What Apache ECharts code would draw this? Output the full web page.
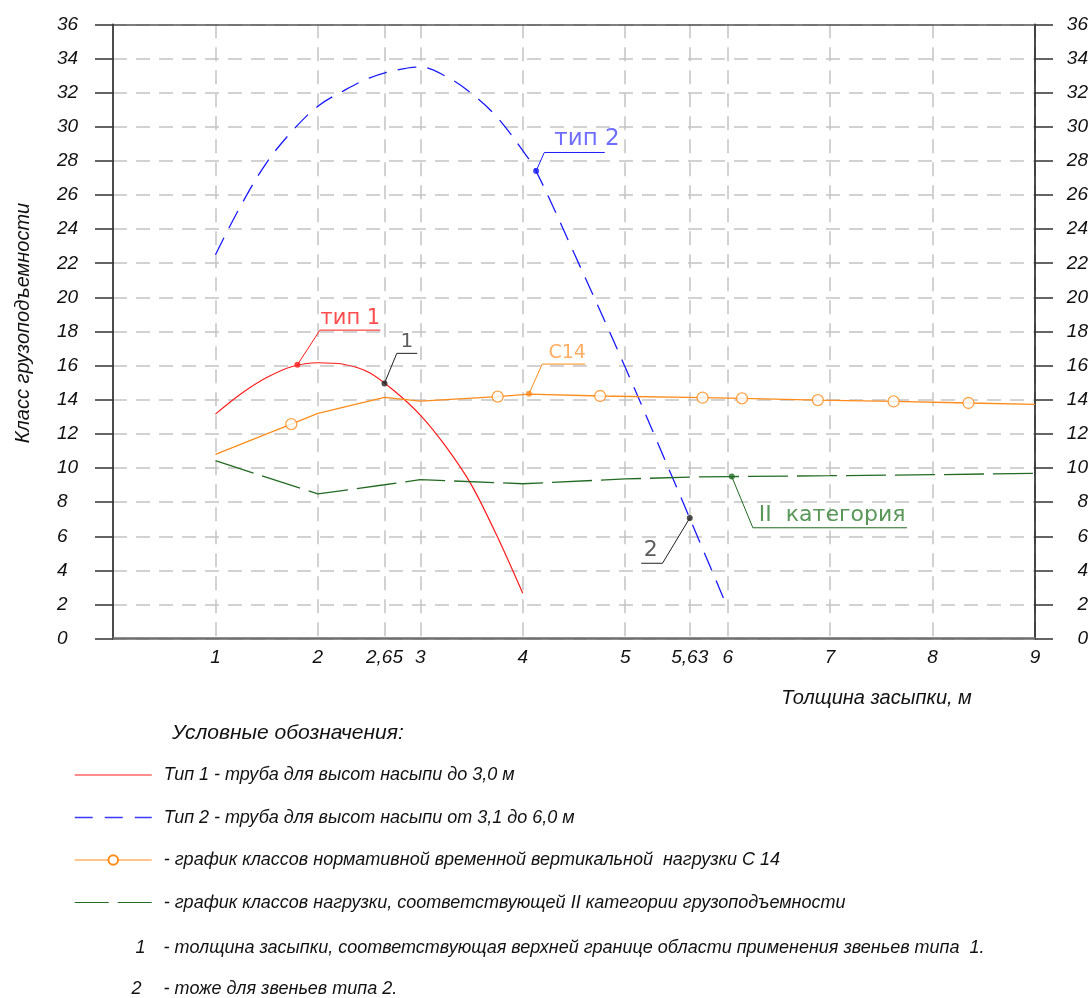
<!DOCTYPE html>
<html>
<head>
<meta charset="utf-8">
<script src="https://cdn.jsdelivr.net/npm/echarts/dist/echarts.min.js"></script>
<style>
html,body{margin:0;padding:0;background:#fff;}
#chart{width:1091px;height:998px;}
</style>
</head>
<body>
<div id="chart"></div>
<script>
// ---------- data (x = толщина засыпки, м ; y = класс грузоподъемности) ----------
const xTickValues = [1, 2, 2.65, 3, 4, 5, 5.63, 6, 7, 8, 9];
const yMin = 0, yMax = 36, yStep = 2;

const seriesNames = [
  'Тип 1 - труба для высот насыпи до 3,0 м',
  'Тип 2 - труба для высот насыпи от 3,1 до 6,0 м',
  '- график классов нормативной временной вертикальной  нагрузки С 14',
  '- график классов нагрузки, соответствующей II категории грузоподъемности'
];

const type1 = [[1.0,13.16],[1.25,14.35],[1.5,15.3],[1.75,15.95],[2.0,16.17],[2.25,16.08],[2.5,15.6],[2.75,14.5],[3.0,13.1],[3.25,11.25],[3.5,9.0],[3.75,6.0],[4.0,2.66]];
const type2 = [[1.0,22.5],[1.25,25.4],[1.5,27.9],[1.75,29.75],[2.0,31.2],[2.25,32.1],[2.5,32.85],[2.75,33.3],[3.0,33.5],[3.25,32.95],[3.5,31.95],[3.75,30.55],[4.0,28.6],[4.13,27.4],[4.5,22.6],[5.0,15.9],[5.5,8.9],[5.63,7.05],[6.0,1.8]];
const c14Line = [[1.0,10.8],[1.74,12.57],[2.0,13.2],[2.65,14.14],[3.0,13.92],[3.755,14.18],[4.06,14.33],[4.755,14.22],[5.755,14.12],[6.14,14.08],[6.88,13.98],[7.62,13.9],[8.35,13.81],[9.0,13.73]];
const c14Markers = [[1.74,12.57],[3.755,14.18],[4.755,14.22],[5.755,14.12],[6.14,14.08],[6.88,13.98],[7.62,13.9],[8.35,13.81]];
const cat2 = [[1.0,10.43],[2.0,8.48],[2.65,9.02],[3.0,9.32],[4.0,9.08],[5.0,9.36],[5.63,9.47],[6.04,9.5],[7.0,9.55],[8.0,9.61],[9.0,9.69]];

// annotation callouts (data coordinates)
const calloutTexts  = ['тип 1', '1', 'тип 2', 'С14', '2', 'II  категория'];
const calloutDots   = [[1.80,16.05],[2.65,14.96],[4.13,27.40],[4.06,14.35],[5.63,7.07],[6.04,9.50]];
const calloutPaths  = [
  [[1.80,16.05],[2.02,18.08],[2.61,18.08]],
  [[2.65,14.96],[2.77,16.72],[2.97,16.72]],
  [[4.13,27.40],[4.21,28.49],[4.80,28.49]],
  [[4.06,14.35],[4.19,16.09],[4.61,16.09]],
  [[5.63,7.07],[5.364,4.42],[5.156,4.42]],
  [[6.04,9.50],[6.246,6.50],[7.75,6.50]]
];
const calloutAnchors = [[2.317,18.08],[2.868,16.72],[4.627,28.49],[4.434,16.09],[5.25,4.42],[7.02,6.50]];

const legendTitle = 'Условные обозначения:';
const noteMarks = ['1', '2'];
const noteTexts = [
  '- толщина засыпки, соответствующая верхней границе области применения звеньев типа  1.',
  '- тоже для звеньев типа 2.'
];

// ---------- styles ----------
const cRed = '#ff1a1a', cBlue = '#1a1aff', cOrange = '#ff8c1a', cGreen = '#236b23';
const calloutColors = ['#ff2020', '#333', '#4a4aff', '#ff9a3c', '#333', '#2e7d2e'];
const calloutSizes = [21, 20, 23, 19, 22, 22];
const dotColors = [cRed, '#222', cBlue, cOrange, '#222', cGreen];
const labelFont = 'Liberation Sans, Arial, sans-serif';
const cadFont = "'DejaVu Sans', sans-serif";
const gridDash = [14, 9];

const series = [
  { name: seriesNames[0], type: 'line', data: type1, smooth: 0.3, symbol: 'none',
    lineStyle: { color: cRed, width: 1.2 }, itemStyle: { color: cRed }, z: 3 },
  { name: seriesNames[1], type: 'line', data: type2, smooth: 0.35, symbol: 'none',
    lineStyle: { color: cBlue, width: 1.3, type: [19, 11] }, itemStyle: { color: cBlue }, z: 3 },
  { name: seriesNames[2], type: 'line', data: c14Line, symbol: 'emptyCircle', showSymbol: false,
    lineStyle: { color: cOrange, width: 1.3 }, itemStyle: { color: cOrange }, z: 3 },
  { name: seriesNames[3], type: 'line', data: cat2, symbol: 'none',
    lineStyle: { color: cGreen, width: 1.3, type: [40, 9] }, itemStyle: { color: cGreen }, z: 3 },
  { name: 'c14 markers', type: 'scatter', data: c14Markers, symbol: 'circle', symbolSize: 11,
    itemStyle: { color: '#fff', borderColor: cOrange, borderWidth: 1.3 }, z: 4, silent: true }
];

calloutPaths.forEach((p, i) => {
  series.push({ type: 'line', data: p, symbol: 'none', silent: true, z: 5,
    lineStyle: { color: dotColors[i], width: 1 } });
  series.push({ type: 'scatter', data: [calloutDots[i]], symbol: 'circle', symbolSize: 6, silent: true, z: 6,
    itemStyle: { color: dotColors[i] } });
  series.push({ type: 'scatter', data: [calloutAnchors[i]], symbolSize: 1, silent: true, z: 6,
    itemStyle: { color: 'rgba(0,0,0,0)' },
    label: { show: true, position: 'top', distance: 1, formatter: calloutTexts[i],
      color: calloutColors[i], fontFamily: cadFont, fontSize: calloutSizes[i] } });
});

const yAxisCommon = {
  type: 'value', min: yMin, max: yMax, interval: yStep,
  axisLine: { show: true, onZero: false, lineStyle: { color: '#111', width: 1.5 } },
  axisTick: { show: true, inside: false, length: 18, lineStyle: { color: '#333', width: 1.5 } }
};

const tickFont = { fontFamily: labelFont, fontStyle: 'italic', fontSize: 19, color: '#111' };

const option = {
  backgroundColor: '#fff',
  animation: false,
  grid: { left: 113, right: 56, top: 24.3, bottom: 359.3, containLabel: false },
  xAxis: [
    { type: 'value', min: 0, max: 9, position: 'bottom',
      name: 'Толщина засыпки, м', nameLocation: 'middle', nameGap: 50,
      nameTextStyle: { fontFamily: labelFont, fontStyle: 'italic', fontSize: 20, color: '#111', padding: [0, 0, 0, 605] },
      axisLine: { show: true, onZero: false, lineStyle: { color: '#6e6e6e', width: 2.5 } },
      axisTick: { show: false, customValues: xTickValues },
      axisLabel: Object.assign({ customValues: xTickValues, margin: 10,
        formatter: v => String(v).replace('.', ',') }, tickFont),
      splitLine: { show: true, lineStyle: { color: '#c4c4c4', width: 1.5, type: gridDash } } },
    { type: 'value', min: 0, max: 9, position: 'top',
      axisLine: { show: true, onZero: false, lineStyle: { color: '#555', width: 1.5 } },
      axisTick: { show: false }, axisLabel: { show: false }, splitLine: { show: false } }
  ],
  yAxis: [
    Object.assign({}, yAxisCommon, { position: 'left',
      name: 'Класс грузоподъемности', nameLocation: 'middle', nameGap: 80,
      nameTextStyle: { fontFamily: labelFont, fontStyle: 'italic', fontSize: 20, color: '#111', padding: [0, 0, 0, 17] },
      axisLabel: Object.assign({ align: 'left', margin: 56 }, tickFont),
      splitLine: { show: true, lineStyle: { color: '#c4c4c4', width: 1.5, type: gridDash } } }),
    Object.assign({}, yAxisCommon, { position: 'right',
      axisLabel: Object.assign({ align: 'right', margin: 53 }, tickFont),
      splitLine: { show: false } })
  ],
  legend: {
    orient: 'vertical', left: 74, top: 765, padding: 0, itemWidth: 77, itemHeight: 12, itemGap: 22.5,
    selectedMode: false,
    textStyle: { fontFamily: labelFont, fontStyle: 'italic', fontSize: 18, color: '#111', lineHeight: 20, padding: [0, 0, 0, 7] },
    lineStyle: { width: 1.2 },
    data: [
      { name: seriesNames[0], itemStyle: { opacity: 0 } },
      { name: seriesNames[1], itemStyle: { opacity: 0 }, lineStyle: { type: [18, 12], color: '#3a3aff', width: 1.5 } },
      { name: seriesNames[2] },
      { name: seriesNames[3], itemStyle: { opacity: 0 }, lineStyle: { type: [34, 9] } }
    ]
  },
  graphic: [
    { type: 'text', x: 172, y: 733, style: { text: legendTitle, font: 'italic 21px ' + labelFont, fill: '#111', verticalAlign: 'middle' } },
    { type: 'text', x: 140.5, y: 948, style: { text: noteMarks[0], font: 'italic 18px ' + labelFont, fill: '#111', align: 'center', verticalAlign: 'middle' } },
    { type: 'text', x: 163.6, y: 948, style: { text: noteTexts[0], font: 'italic 18px ' + labelFont, fill: '#111', verticalAlign: 'middle' } },
    { type: 'text', x: 136.5, y: 989, style: { text: noteMarks[1], font: 'italic 18px ' + labelFont, fill: '#111', align: 'center', verticalAlign: 'middle' } },
    { type: 'text', x: 163.6, y: 989, style: { text: noteTexts[1], font: 'italic 18px ' + labelFont, fill: '#111', verticalAlign: 'middle' } }
  ],
  series: series
};

const chart = echarts.init(document.getElementById('chart'), null, { renderer: 'canvas' });
chart.setOption(option);
</script>
</body>
</html>
